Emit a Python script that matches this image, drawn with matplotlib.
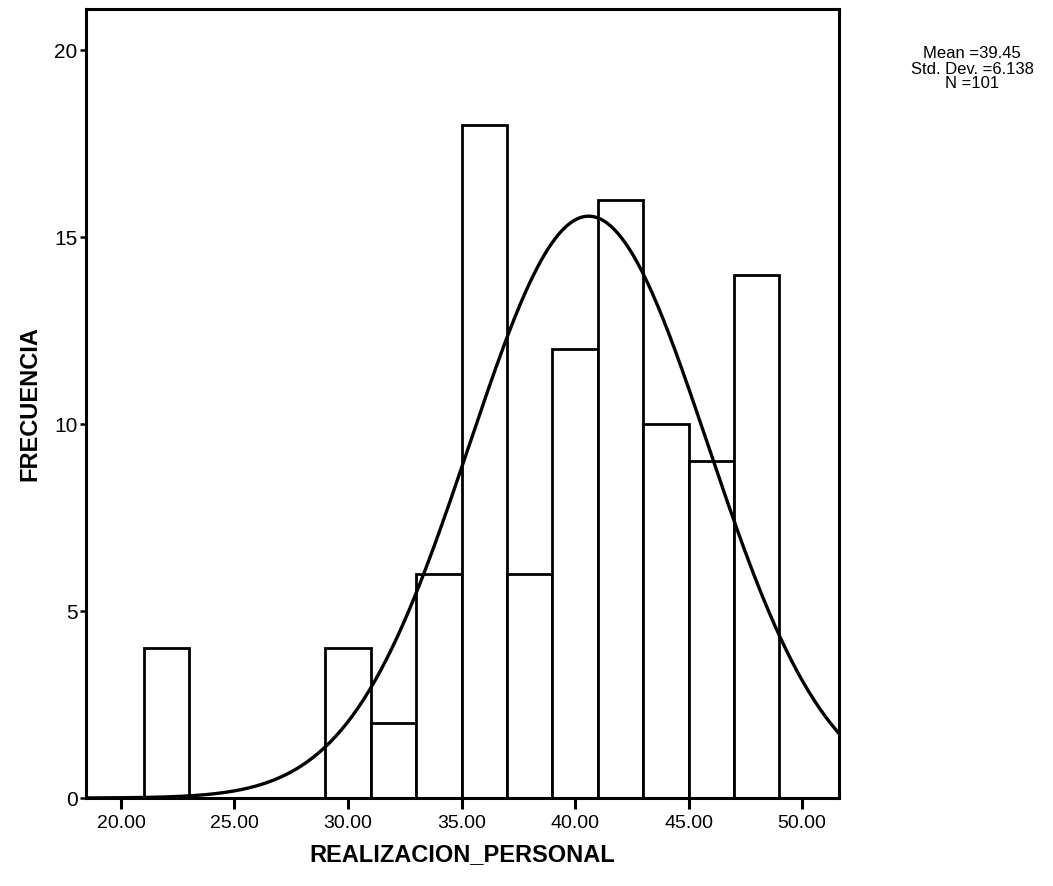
import numpy as np
import matplotlib
matplotlib.use("Agg")
from matplotlib import pyplot as plt

# Histogram bins (left edge of each bar, width 2) and counts
BIN_LEFT = [21, 29, 31, 33, 35, 37, 39, 41, 43, 45, 47]
COUNTS = [4, 4, 2, 6, 18, 6, 12, 16, 10, 9, 14]
BIN_WIDTH = 2

# Normal curve as drawn (peak position / height / spread)
CURVE_MEAN = 40.6
CURVE_SD = 5.26
CURVE_PEAK = 15.56

# Summary box text
STAT_MEAN = "39.45"
STAT_SD = "6.138"
STAT_N = "101"

X_TICKS = [20, 25, 30, 35, 40, 45, 50]
Y_TICKS = [0, 5, 10, 15, 20]

plt.rcParams["font.family"] = ["Liberation Sans", "DejaVu Sans"]

fig = plt.figure(figsize=(10.53, 8.86), dpi=100)
ax = fig.add_axes([0.0817, 0.0993, 0.7151, 0.8905])

ax.bar(BIN_LEFT, COUNTS, width=BIN_WIDTH, align="edge",
       facecolor="white", edgecolor="black", linewidth=2.0, zorder=2)

# NOTE: curve drawn across the whole visible x-range
xs = np.linspace(18.46, 51.63, 400)
ys = CURVE_PEAK * np.exp(-0.5 * ((xs - CURVE_MEAN) / CURVE_SD) ** 2)
ax.plot(xs, ys, color="black", linewidth=2.4, zorder=3)

ax.set_xlim(18.46, 51.63)
ax.set_ylim(0, 21.1)

ax.set_xticks(X_TICKS)
ax.set_xticklabels([f"{t:.2f}" for t in X_TICKS])
ax.set_yticks(Y_TICKS)
ax.tick_params(axis="x", direction="out", length=8, width=2.2, labelsize=14, pad=4)
ax.tick_params(axis="y", direction="out", length=4, width=1.8, labelsize=15, pad=2)

for spine in ax.spines.values():
    spine.set_linewidth(2.2)
    spine.set_color("black")

ax.set_xlabel("REALIZACION_PERSONAL", fontsize=17, fontweight="bold", va="center")
ax.xaxis.set_label_coords(0.5, -0.072)
ax.set_ylabel("FRECUENCIA", fontsize=17, fontweight="bold", va="center")
ax.yaxis.set_label_coords(-0.074, 0.5)

fig.text(972 / 1053, 1 - 69 / 886,
         f"Mean ={STAT_MEAN}\nStd. Dev. ={STAT_SD}\nN ={STAT_N}",
         ha="center", va="center", fontsize=12, linespacing=1.0)

fig.savefig("out.png", dpi=100)
